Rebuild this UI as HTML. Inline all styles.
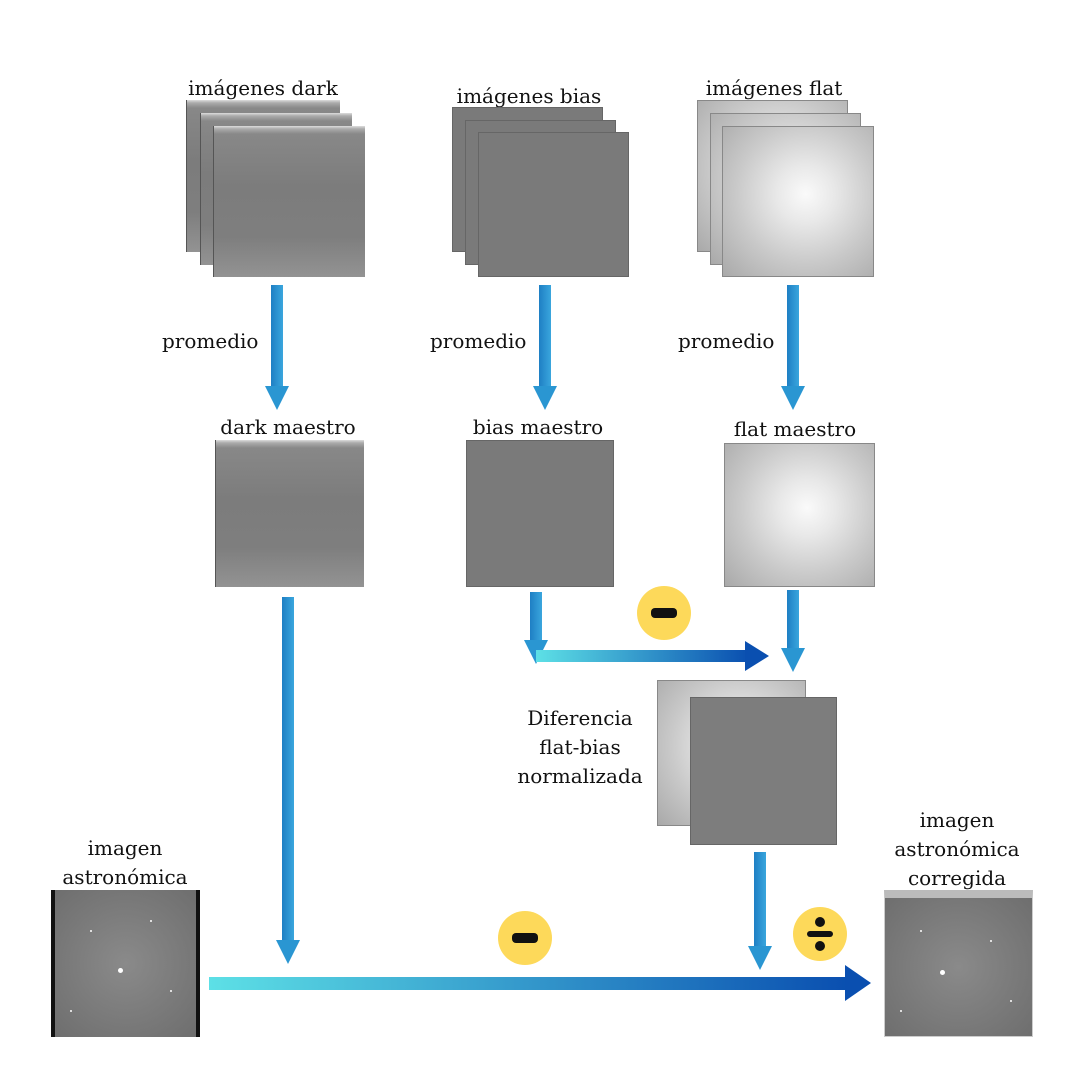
<!DOCTYPE html>
<html><head><meta charset="utf-8"><style>
body{margin:0;width:1080px;height:1080px;background:#fff;position:relative;overflow:hidden;font-family:"DejaVu Serif","Liberation Serif",serif;}
.im{position:absolute;box-sizing:border-box;}
.dark{background:linear-gradient(#ddd 0,#aaa 3px,#888 8px,#7c7c7c 40%,#808080 100%);border-left:1px solid #555;}
.dark:after{content:"";position:absolute;left:0;right:0;bottom:0;height:40px;background:linear-gradient(transparent,rgba(255,255,255,.15));}
.bias{background:#7a7a7a;border:1px solid #666;}
.flat{background:radial-gradient(circle at 55% 45%,#fafafa 0,#e8e8e8 25%,#c9c9c9 60%,#a9a9a9 100%);border:1px solid #888;}
.astro{background:radial-gradient(circle at 50% 50%,#8a8a8a,#6e6e6e);}
.t{position:absolute;font-size:20px;color:#111;text-align:center;line-height:29px;white-space:nowrap;}
.sh{position:absolute;background:linear-gradient(90deg,#1e7fc4,#3aa6dd);}
.hd{position:absolute;width:0;height:0;border-left:12px solid transparent;border-right:12px solid transparent;border-top:24px solid #2a96d2;}
.c{position:absolute;border-radius:50%;background:#fdd95a;}
.c i{position:absolute;background:#111;border-radius:4px;}
.s{position:absolute;width:2px;height:2px;background:#fff;border-radius:50%;}
</style></head><body>
<div class="t" style="left:163px;top:74px;width:200px">imágenes dark</div>
<div class="im dark" style="left:186px;top:100px;width:154px;height:152px"></div>
<div class="im dark" style="left:200px;top:113px;width:152px;height:152px"></div>
<div class="im dark" style="left:213px;top:126px;width:152px;height:151px"></div>

<div class="t" style="left:429px;top:82px;width:200px">imágenes bias</div>
<div class="im bias" style="left:452px;top:107px;width:151px;height:145px"></div>
<div class="im bias" style="left:465px;top:120px;width:151px;height:145px"></div>
<div class="im bias" style="left:478px;top:132px;width:151px;height:145px"></div>

<div class="t" style="left:674px;top:74px;width:200px">imágenes flat</div>
<div class="im flat" style="left:697px;top:100px;width:151px;height:152px"></div>
<div class="im flat" style="left:710px;top:113px;width:151px;height:152px"></div>
<div class="im flat" style="left:722px;top:126px;width:152px;height:151px"></div>

<div class="sh" style="left:271px;top:285px;width:12px;height:102px"></div><div class="hd" style="left:265px;top:386px"></div>
<div class="sh" style="left:539px;top:285px;width:12px;height:102px"></div><div class="hd" style="left:533px;top:386px"></div>
<div class="sh" style="left:787px;top:285px;width:12px;height:102px"></div><div class="hd" style="left:781px;top:386px"></div>
<div class="t" style="left:162px;top:327px">promedio</div>
<div class="t" style="left:430px;top:327px">promedio</div>
<div class="t" style="left:678px;top:327px">promedio</div>

<div class="t" style="left:188px;top:413px;width:200px">dark maestro</div>
<div class="im dark" style="left:215px;top:440px;width:149px;height:147px"></div>
<div class="t" style="left:438px;top:413px;width:200px">bias maestro</div>
<div class="im bias" style="left:466px;top:440px;width:148px;height:147px"></div>
<div class="t" style="left:695px;top:415px;width:200px">flat maestro</div>
<div class="im flat" style="left:724px;top:443px;width:151px;height:144px"></div>

<div class="sh" style="left:282px;top:597px;width:12px;height:345px"></div><div class="hd" style="left:276px;top:940px"></div>
<div class="sh" style="left:530px;top:592px;width:12px;height:50px"></div><div class="hd" style="left:524px;top:640px"></div>
<div class="sh" style="left:536px;top:650px;width:212px;height:12px;background:linear-gradient(90deg,#5de0e6,#0a4fb0)"></div>
<div style="position:absolute;left:745px;top:641px;border-top:15px solid transparent;border-bottom:15px solid transparent;border-left:24px solid #0a4fb0"></div>
<div class="sh" style="left:787px;top:590px;width:12px;height:60px"></div><div class="hd" style="left:781px;top:648px"></div>
<div class="c" style="left:637px;top:586px;width:54px;height:54px"><i style="left:14px;top:22px;width:26px;height:10px"></i></div>

<div class="im flat" style="left:657px;top:680px;width:149px;height:146px"></div>
<div class="im bias" style="left:690px;top:697px;width:147px;height:148px;background:#7d7d7d"></div>
<div class="t" style="left:500px;top:704px;width:160px;text-align:center">Diferencia<br>flat-bias<br>normalizada</div>

<div class="sh" style="left:754px;top:852px;width:12px;height:95px"></div><div class="hd" style="left:748px;top:946px"></div>
<div class="c" style="left:793px;top:907px;width:54px;height:54px"><i style="left:14px;top:24px;width:26px;height:6px;border-radius:3px"></i><i style="left:22px;top:10px;width:10px;height:10px;border-radius:50%"></i><i style="left:22px;top:34px;width:10px;height:10px;border-radius:50%"></i></div>

<div class="sh" style="left:209px;top:977px;width:638px;height:13px;background:linear-gradient(90deg,#5de0e6,#0a4fb0)"></div>
<div style="position:absolute;left:845px;top:965px;border-top:18px solid transparent;border-bottom:18px solid transparent;border-left:26px solid #0a4fb0"></div>
<div class="c" style="left:498px;top:911px;width:54px;height:54px"><i style="left:14px;top:22px;width:26px;height:10px"></i></div>

<div class="t" style="left:25px;top:834px;width:200px">imagen<br>astronómica</div>
<div class="im astro" style="left:51px;top:890px;width:149px;height:147px;border-left:4px solid #111;border-right:4px solid #111"></div>
<div class="t" style="left:857px;top:806px;width:200px">imagen<br>astronómica<br>corregida</div>
<div class="im astro" style="left:884px;top:890px;width:149px;height:147px;border:1px solid #ccc;border-top:8px solid #bbb"></div>
<div class="s" style="left:118px;top:968px;width:5px;height:5px"></div>
<div class="s" style="left:90px;top:930px"></div><div class="s" style="left:150px;top:920px"></div>
<div class="s" style="left:170px;top:990px"></div><div class="s" style="left:70px;top:1010px"></div>
<div class="s" style="left:940px;top:970px;width:5px;height:5px"></div>
<div class="s" style="left:920px;top:930px"></div><div class="s" style="left:990px;top:940px"></div>
<div class="s" style="left:1010px;top:1000px"></div><div class="s" style="left:900px;top:1010px"></div>
</body></html>
